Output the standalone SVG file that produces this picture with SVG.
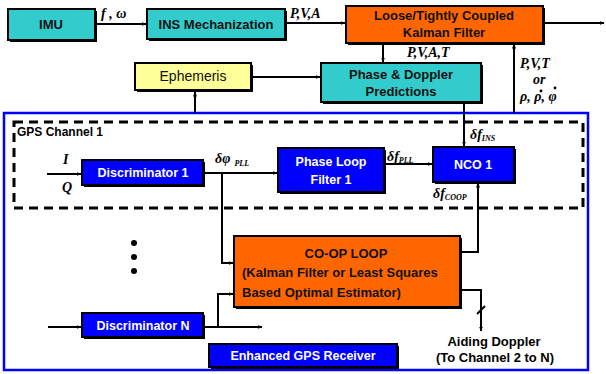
<svg xmlns="http://www.w3.org/2000/svg" width="606" height="374" viewBox="0 0 606 374">
<defs>
<marker id="ah" viewBox="0 0 10 10" refX="9" refY="5" markerWidth="5" markerHeight="5" orient="auto" markerUnits="userSpaceOnUse">
<path d="M0,1 L10,5 L0,9 z" fill="#000"/>
</marker>
<style>
.box{stroke:#000;stroke-width:2}
.sh{fill:#000}
.cy{fill:#33CCCC}
.or{fill:#FF6600}
.ye{fill:#FFFF99}
.bl{fill:#0000FF}
.t{font-family:"Liberation Sans",Arial,sans-serif;font-weight:bold;font-size:13px;fill:#111;text-anchor:middle}
.tw{font-family:"Liberation Sans",Arial,sans-serif;font-weight:bold;font-size:12.5px;fill:#fff;text-anchor:middle}
.m{font-family:"Liberation Serif","Times New Roman",serif;font-weight:bold;font-style:italic;font-size:14px;fill:#000}
.s{font-size:8px}
.c{fill:none;stroke:#000;stroke-width:2}
.ca{fill:none;stroke:#000;stroke-width:2;marker-end:url(#ah)}
</style>
</defs>
<rect width="606" height="374" fill="#fff"/>

<!-- enclosures -->
<rect x="4" y="113" width="584" height="257" fill="none" stroke="#0000FF" stroke-width="2.5"/>
<rect x="14" y="122" width="569" height="86" fill="none" stroke="#000" stroke-width="3" stroke-dasharray="9,6"/>
<text x="17" y="136" style="font-family:'Liberation Sans',Arial,sans-serif;font-weight:bold;font-size:12px;fill:#000">GPS Channel 1</text>

<!-- connectors -->
<g id="connectors">
<path class="ca" d="M95,24 H146"/>
<path class="ca" d="M285,23 H345"/>
<path class="ca" d="M543,23 H604"/>
<path class="ca" d="M383,43 V62"/>
<path class="ca" d="M253,77 H320"/>
<path class="ca" d="M195,113 V92"/>
<path class="ca" d="M514,113 V44"/>
<path class="ca" d="M464,102 V146"/>
<path class="ca" d="M47,174 H81"/>
<path class="ca" d="M205,173 H277"/>
<path class="ca" d="M222,173 V263 H233"/>
<path class="ca" d="M386,164 H432"/>
<path class="ca" d="M460,252 H478 V183"/>
<path class="ca" d="M460,290 H481 V331"/>
<path class="c" d="M477,314 L485,306"/>
<path class="ca" d="M48,327 H81"/>
<path class="ca" d="M203,327 H262"/>
<path class="ca" d="M218,327 V294 H233"/>
</g>

<!-- connector labels -->
<text class="m" x="101" y="18">f , ω</text>
<text class="m" x="290" y="18">P,V,A</text>
<text class="m" x="407" y="57">P,V,A,T</text>
<text class="m" x="520" y="68">P,V,T</text>
<text class="m" x="533" y="84">or</text>
<text class="m" x="520" y="101">ρ, ρ, φ</text>
<circle cx="541" cy="91" r="1.4" fill="#000"/>
<circle cx="555" cy="88" r="1.4" fill="#000"/>
<text class="m" x="470" y="139">δf<tspan class="s" dy="2">INS</tspan></text>
<text class="m" x="63" y="164">I</text>
<text class="m" x="62" y="192">Q</text>
<text class="m" x="215" y="163">δφ<tspan class="s" dx="4" dy="3">PLL</tspan></text>
<text class="m" x="387" y="161">δf<tspan class="s" dy="2">PLL</tspan></text>
<text class="m" x="433" y="198">δf<tspan class="s" dy="2">COOP</tspan></text>

<!-- nodes -->
<g id="imu">
<rect class="sh" x="10" y="11" width="87" height="31"/>
<rect class="box cy" x="8" y="9" width="87" height="31"/>
<text class="t" x="51" y="29">IMU</text>
</g>
<g id="ins">
<rect class="sh" x="149" y="11" width="138" height="30"/>
<rect class="box cy" x="147" y="9" width="138" height="30"/>
<text class="t" x="216" y="29">INS Mechanization</text>
</g>
<g id="kalman">
<rect class="sh" x="348" y="8" width="197" height="37"/>
<rect class="box or" x="346" y="6" width="197" height="37"/>
<text class="t" x="444" y="20">Loose/Tightly Coupled</text>
<text class="t" x="444" y="37">Kalman Filter</text>
</g>
<g id="ephemeris">
<rect class="sh" x="137" y="65" width="116" height="27"/>
<rect class="box ye" x="135" y="63" width="116" height="27"/>
<text x="193" y="81" style="font-family:'Liberation Sans',Arial,sans-serif;font-size:14px;fill:#111;text-anchor:middle">Ephemeris</text>
</g>
<g id="phase-doppler">
<rect class="sh" x="323" y="65" width="160" height="39"/>
<rect class="box cy" x="321" y="63" width="160" height="39"/>
<text class="t" x="401" y="79">Phase &amp; Doppler</text>
<text class="t" x="401" y="96">Predictions</text>
</g>
<g id="disc1">
<rect class="sh" x="84" y="162" width="121" height="25"/>
<rect class="box bl" x="82" y="160" width="121" height="25"/>
<text class="tw" x="143" y="177">Discriminator 1</text>
</g>
<g id="plf">
<rect class="sh" x="280" y="150" width="106" height="44"/>
<rect class="box bl" x="278" y="148" width="106" height="44"/>
<text class="tw" x="331" y="166">Phase Loop</text>
<text class="tw" x="331" y="184">Filter 1</text>
</g>
<g id="nco">
<rect class="sh" x="435" y="149" width="81" height="35"/>
<rect class="box bl" x="433" y="147" width="81" height="35"/>
<text class="tw" x="473" y="169">NCO 1</text>
</g>
<g id="coop">
<rect class="sh" x="236" y="238" width="226" height="71"/>
<rect class="box or" x="234" y="236" width="226" height="71"/>
<text class="t" x="346" y="258">CO-OP LOOP</text>
<text class="t" x="242" y="277" style="text-anchor:start">(Kalman Filter or Least Squares</text>
<text class="t" x="242" y="297" style="text-anchor:start">Based Optimal Estimator)</text>
</g>
<g id="dots">
<circle cx="134" cy="243" r="3" fill="#000"/>
<circle cx="134" cy="257" r="3" fill="#000"/>
<circle cx="134" cy="271" r="3" fill="#000"/>
</g>
<g id="discN">
<rect class="sh" x="84" y="315" width="121" height="24"/>
<rect class="box bl" x="82" y="313" width="121" height="24"/>
<text class="tw" x="143" y="330">Discriminator N</text>
</g>
<g id="receiver">
<rect class="sh" x="211" y="346" width="188" height="23"/>
<rect class="box bl" x="209" y="344" width="188" height="23"/>
<text class="tw" x="303" y="360">Enhanced GPS Receiver</text>
</g>
<g id="aiding">
<text class="t" x="494" y="346" style="fill:#000">Aiding Doppler</text>
<text class="t" x="495" y="362" style="fill:#000">(To Channel 2 to N)</text>
</g>
</svg>
